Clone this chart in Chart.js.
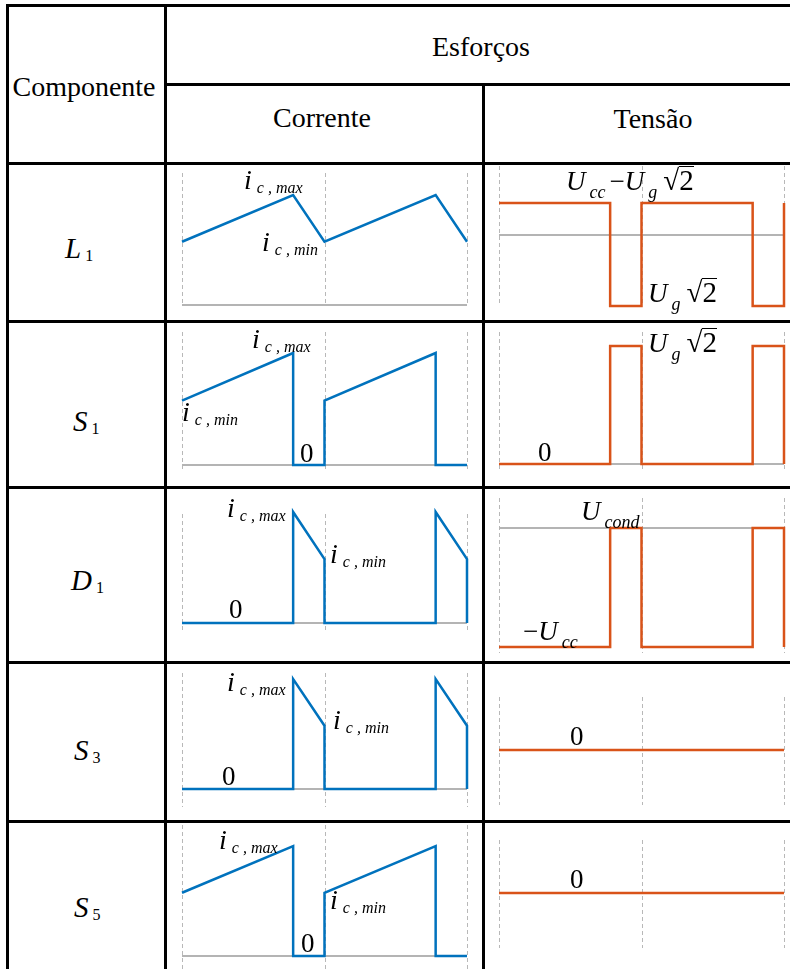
<!DOCTYPE html>
<html>
<head>
<meta charset="utf-8">
<script src="https://cdn.jsdelivr.net/npm/chart.js@4.4.0/dist/chart.umd.min.js"></script>
<style>
  body { margin: 0; background: #fff; }
  #page { position: relative; width: 790px; height: 969px; overflow: hidden; font-family: "Liberation Serif", "Times New Roman", serif; }
  .ln { position: absolute; background: #000; }
  canvas { position: absolute; }
  .lbl { position: absolute; white-space: nowrap; font-size: 20px; line-height: 40px; color: #000; }
  .lbl span { line-height: 0; }
  .hdr { font-size: 28px; }
  .big { font-style: italic; font-size: 28px; }
  .sub { font-style: italic; font-size: 16px; vertical-align: -4px; margin-left: 5px; }
  .U { font-style: italic; font-size: 27px; }
  .subU { font-style: italic; font-size: 18px; vertical-align: -8px; margin-left: 4px; margin-right: 3px; }
  .op { font-size: 27px; margin-left: 1px; }
  .num { font-size: 27px; }
  .rad { font-size: 29px; margin-left: 3px; }
  .ov { font-size: 29px; position: relative; }
  .ov::after { content: ""; position: absolute; left: 0; right: 0; top: 2px; border-top: 1.5px solid #000; }
  .comp { font-style: italic; font-size: 29px; }
  .csub { font-size: 16px; vertical-align: -3px; margin-left: 4px; }
</style>
</head>
<body>
<div id="page"></div>
<script>
// period axis: two switching periods, duty cycle ~0.78
const periodTicks = [0, 1, 2];

// current waveforms (i / ic,max)
const tL1 = [0, 0.78, 1, 1.78, 2];
const iL1 = [0.575, 1, 0.575, 1, 0.575];
const tS1 = [0, 0.78, 0.78, 1, 1, 1.78, 1.78, 2];
const iS1 = [0.575, 1, 0, 0, 0.575, 1, 0, 0];
const tD1 = [0, 0.78, 0.78, 1, 1, 1.78, 1.78, 2, 2];
const iD1 = [0, 0, 1, 0.575, 0, 0, 1, 0.575, 0];
const iS3 = [0, 0, 1, 0.575, 0, 0, 1, 0.575, 0];
const iS5 = [0.575, 1, 0, 0, 0.575, 1, 0, 0];

// voltage waveforms (v / Ug*sqrt2 or Ucc)
const tV = [0, 0.78, 0.78, 1, 1, 1.78, 1.78, 2, 2];
const vL1 = [0.45, 0.45, -1, -1, 0.45, 0.45, -1, -1, 0.45];
const vS1 = [0, 0, 1, 1, 0, 0, 1, 1, 0];
const vD1 = [-1, -1, 0, 0, -1, -1, 0, 0, -1];
const tFlat = [0, 2];
const vS3 = [0, 0];
const vS5 = [0, 0];

const baseT = [0, 2];
const baseV = [0, 0];

const components = ['L', 'S', 'D', 'S', 'S'];
const componentIdx = ['1', '1', '1', '3', '5'];

const blue = '#0072BD';
const orange = '#D95319';
const gray = '#b4b4b4';

const page = document.getElementById('page');

// table lines
function line(x, y, w, h) {
  const d = document.createElement('div');
  d.className = 'ln';
  d.style.left = x + 'px'; d.style.top = y + 'px';
  d.style.width = w + 'px'; d.style.height = h + 'px';
  page.appendChild(d);
}

// text with baseline at y
function label(html, x, y, center) {
  const d = document.createElement('div');
  d.className = 'lbl';
  d.innerHTML = html;
  d.style.left = x + 'px';
  d.style.top = (y - 26.75) + 'px';
  if (center) d.style.transform = 'translateX(-50%)';
  page.appendChild(d);
}

const dashedTicks = {
  id: 'dashedTicks',
  beforeDatasetsDraw(chart) {
    const { ctx, chartArea: a, scales: { x } } = chart;
    ctx.save();
    ctx.strokeStyle = '#b8b8b8';
    ctx.lineWidth = 1;
    ctx.setLineDash([4, 3]);
    periodTicks.forEach(t => {
      const px = Math.round(x.getPixelForValue(t)) + 0.5;
      ctx.beginPath();
      ctx.moveTo(px, a.top);
      ctx.lineTo(px, a.bottom);
      ctx.stroke();
    });
    ctx.restore();
  }
};

function pts(t, v) { return t.map((x, k) => ({ x: x, y: v[k] })); }

const cols = { i: { left: 167, right: 482, dl: 182, dr: 467, color: blue },
               v: { left: 485, right: 790, dl: 499, dr: 784, color: orange } };
const rows = [[165, 320], [323, 486], [489, 661], [664, 820], [823, 969]];

const cells = [
  { col: 'i', row: 0, t: tL1, y: iL1, top: 173, bottom: 306, min: -0.009, max: 1.2 },
  { col: 'i', row: 1, t: tS1, y: iS1, top: 332, bottom: 472, min: -0.0625, max: 1.1875 },
  { col: 'i', row: 2, t: tD1, y: iD1, top: 514, bottom: 631, min: -0.072, max: 0.982 },
  { col: 'i', row: 3, t: tD1, y: iS3, top: 673, bottom: 807, min: -0.1636, max: 1.0545 },
  { col: 'i', row: 4, t: tS1, y: iS5, top: 825, bottom: 969, min: -0.118, max: 1.191 },
  { col: 'v', row: 0, t: tV, y: vL1, top: 166, bottom: 306, min: -1, max: 0.972 },
  { col: 'v', row: 1, t: tV, y: vS1, top: 332, bottom: 472, min: -0.068, max: 1.119 },
  { col: 'v', row: 2, t: tV, y: vD1, top: 498, bottom: 653, min: -1.05, max: 0.252 },
  { col: 'v', row: 3, t: tFlat, y: vS3, top: 697, bottom: 805, min: -0.55, max: 0.53 },
  { col: 'v', row: 4, t: tFlat, y: vS5, top: 840, bottom: 948, min: -0.55, max: 0.53 }
];

cells.forEach(c => {
  const col = cols[c.col];
  const [rt, rb] = rows[c.row];
  const cv = document.createElement('canvas');
  cv.width = col.right - col.left;
  cv.height = rb - rt;
  cv.style.left = col.left + 'px';
  cv.style.top = rt + 'px';
  page.appendChild(cv);

  new Chart(cv.getContext('2d'), {
    type: 'line',
    data: {
      datasets: [
        { data: pts(c.t, c.y), borderColor: col.color, borderWidth: 2.5, clip: false, order: 0 },
        { data: pts(baseT, baseV), borderColor: gray, borderWidth: 2.2, clip: false, order: 1 }
      ]
    },
    options: {
      responsive: false,
      animation: false,
      events: [],
      layout: { padding: { left: col.dl - col.left, right: col.right - col.dr, top: c.top - rt, bottom: rb - c.bottom } },
      elements: { point: { radius: 0 }, line: { tension: 0, borderCapStyle: 'butt', borderJoinStyle: 'miter' } },
      plugins: { legend: { display: false }, tooltip: { enabled: false } },
      scales: {
        x: { type: 'linear', display: false, min: 0, max: 2 },
        y: { display: false, min: c.min, max: c.max }
      }
    },
    plugins: [dashedTicks]
  });
});

// borders
line(6, 4, 784, 3);
line(6, 4, 3, 965);
line(164, 4, 3, 965);
line(164, 83, 626, 2.5);
line(482, 83, 3, 886);
[162, 320, 486, 661, 820].forEach(y => line(6, y, 784, 3));

// headers
label('<span class="hdr">Esforços</span>', 481, 56, true);
label('<span class="hdr">Componente</span>', 84, 96, true);
label('<span class="hdr">Corrente</span>', 322, 127, true);
label('<span class="hdr">Tensão</span>', 653, 128, true);

// component names
const compPos = [[65, 258], [73, 431], [71, 590], [74, 760], [74, 917]];
components.forEach((n, k) => {
  label(`<span class="comp">${n}</span><span class="csub">${componentIdx[k]}</span>`, compPos[k][0], compPos[k][1]);
});

// waveform annotations
const ic = s => `<span class="big">i</span><span class="sub">c , ${s}</span>`;
const U = s => `<span class="U">U</span><span class="subU">${s}</span>`;
const sqrt2 = '<span class="rad">√</span><span class="ov">2</span>';
const zero = '<span class="num">0</span>';

label(ic('max'), 244, 189);
label(ic('min'), 262, 251);
label(U('cc') + '<span class="op">−</span>' + U('g') + sqrt2, 566, 190);
label(U('g') + sqrt2, 648, 302);

label(ic('max'), 252, 348);
label(ic('min'), 182, 421);
label(zero, 300, 462);
label(U('g') + sqrt2, 648, 352);
label(zero, 538, 461);

label(ic('max'), 227, 517);
label(ic('min'), 330, 563);
label(zero, 229, 618);
label(U('cond'), 581, 520);
label('<span class="op">−</span>' + U('cc'), 522, 640);

label(ic('max'), 227, 691);
label(ic('min'), 333, 729);
label(zero, 222, 785);
label(zero, 570, 745);

label(ic('max'), 219, 849);
label(ic('min'), 330, 909);
label(zero, 301, 952);
label(zero, 570, 888);
</script>
</body>
</html>
